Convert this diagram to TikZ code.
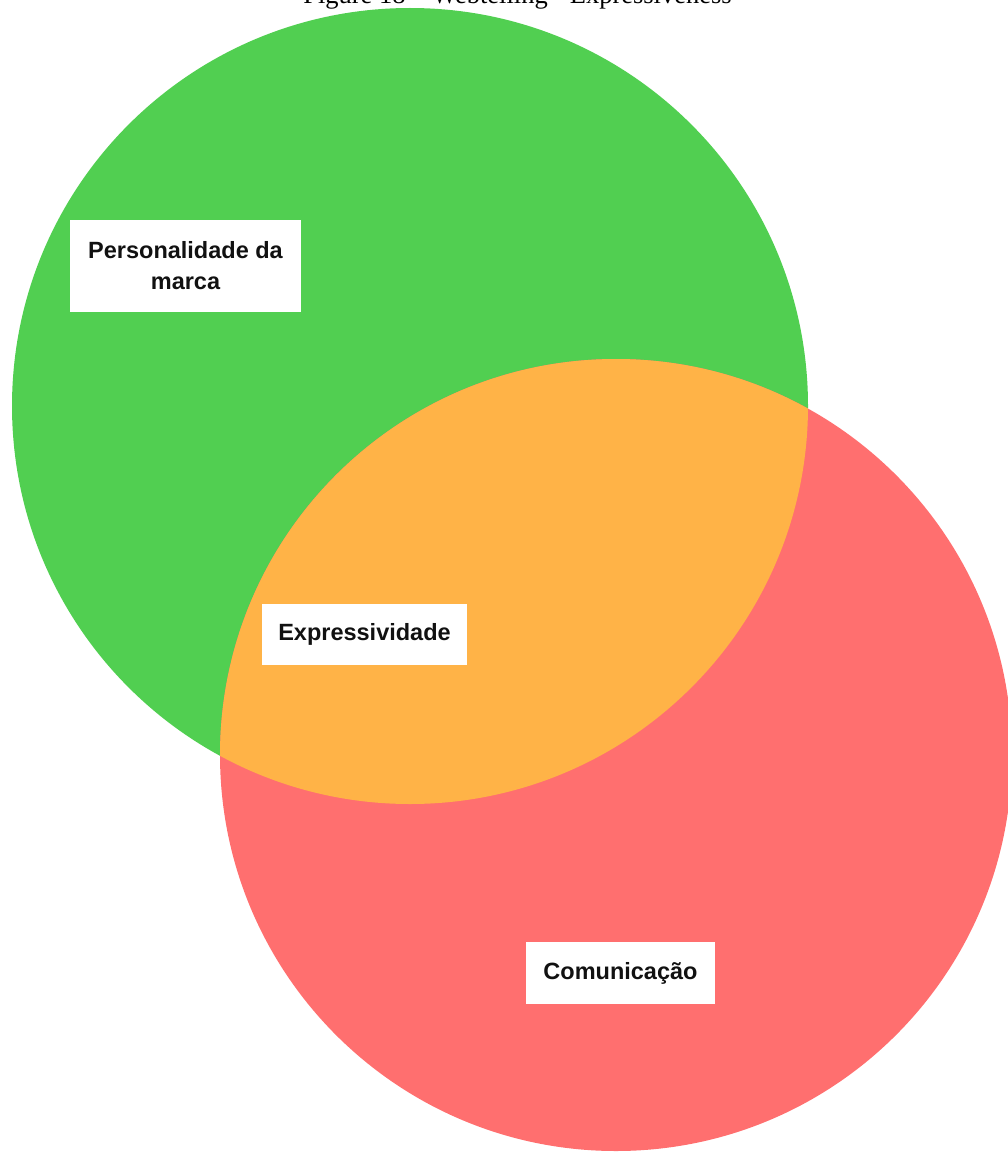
\documentclass[tikz,border=0pt]{standalone}
\usepackage{fontspec}
\newfontfamily\labfont{Liberation Sans}
\newfontfamily\capfont{Liberation Serif}
\definecolor{vgreen}{RGB}{81,207,81}
\definecolor{vred}{RGB}{255,111,111}
\definecolor{vorange}{RGB}{255,179,71}
\definecolor{vtext}{RGB}{17,17,17}
\begin{document}
\begin{tikzpicture}[x=1pt,y=-1pt,
  lab/.style={fill=white,inner sep=0pt,align=center,text=vtext,
    font=\labfont\bfseries\fontsize{23.5}{31}\selectfont},
  captext/.style={inner sep=0pt,anchor=base,font=\capfont\fontsize{26.5}{30}\selectfont}]
\useasboundingbox (0,0) rectangle (1008,1153);
\fill[vgreen] (410,406) circle[radius=398];
\fill[vred] (616,755) circle[radius=396];
\begin{scope}
\clip (410,406) circle[radius=398];
\fill[vorange] (616,755) circle[radius=396];
\end{scope}
\node[captext] (caption) at (517.5,4) {Figure 18 – Webtelling - Expressiveness};
\node[lab,minimum width=231pt,minimum height=92pt] (pers) at (185.5,266) {Personalidade da\\marca};
\node[lab,minimum width=205pt,minimum height=61pt] (expr) at (364.5,634.5) {Expressividade};
\node[lab,minimum width=189pt,minimum height=62pt] (comu) at (620.5,973) {Comunicação};
\end{tikzpicture}
\end{document}
